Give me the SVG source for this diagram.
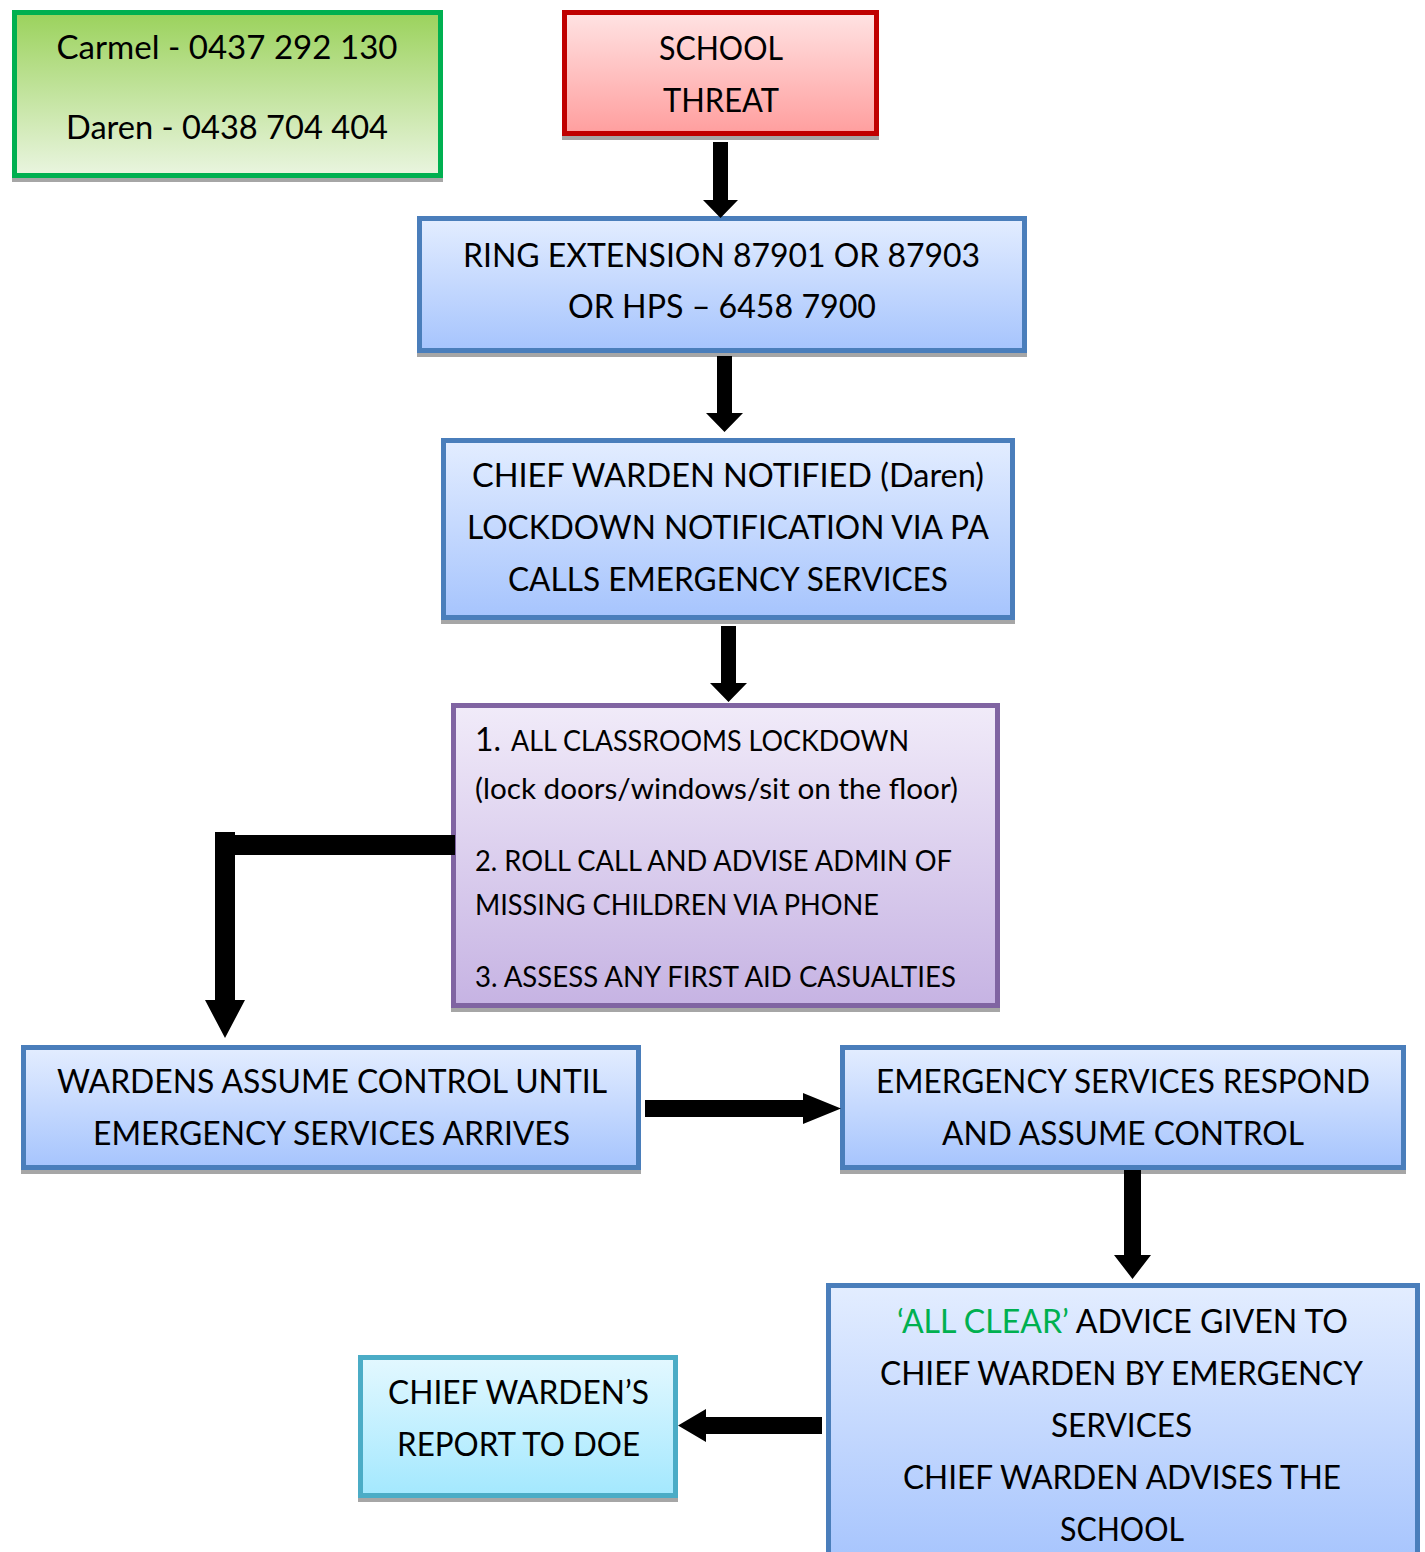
<svg xmlns="http://www.w3.org/2000/svg" width="1425" height="1552" viewBox="0 0 1425 1552">
<style>
.t{font-family:Lato,"Open Sans","Liberation Sans",sans-serif;font-size:33px;fill:#000;}
.p{font-size:28.5px;}
.sh{fill:#A6A6A6;}
.b{stroke-width:5;}
.ar{fill:#000;}
</style>
<defs>
<linearGradient id="gG" x1="0" y1="0" x2="0" y2="1"><stop offset="0" stop-color="#9BD25C"/><stop offset="1" stop-color="#EAF5E0"/></linearGradient>
<linearGradient id="gR" x1="0" y1="0" x2="0" y2="1"><stop offset="0" stop-color="#FFE3E3"/><stop offset="1" stop-color="#FF9E9E"/></linearGradient>
<linearGradient id="gB" x1="0" y1="0" x2="0" y2="1"><stop offset="0" stop-color="#E3EDFF"/><stop offset="1" stop-color="#A6C4FD"/></linearGradient>
<linearGradient id="gP" x1="0" y1="0" x2="0" y2="1"><stop offset="0" stop-color="#F1EBF9"/><stop offset="1" stop-color="#C6B3E3"/></linearGradient>
<linearGradient id="gC" x1="0" y1="0" x2="0" y2="1"><stop offset="0" stop-color="#E3F8FF"/><stop offset="1" stop-color="#A3E8FE"/></linearGradient>
</defs>
<rect width="1425" height="1552" fill="#fff"/>

<g id="contacts">
<rect class="sh" x="12" y="14" width="431" height="168"/>
<rect class="b" x="14.5" y="12.5" width="426" height="163" fill="url(#gG)" stroke="#00B050"/>
<text class="t" x="227" y="59" text-anchor="middle" textLength="341" lengthAdjust="spacingAndGlyphs">Carmel - 0437 292 130</text>
<text class="t" x="227" y="139" text-anchor="middle" textLength="322" lengthAdjust="spacingAndGlyphs">Daren - 0438 704 404</text>
</g>

<g id="school-threat">
<rect class="sh" x="562" y="14" width="317" height="126"/>
<rect class="b" x="564.5" y="12.5" width="312" height="121" fill="url(#gR)" stroke="#C00000"/>
<text class="t" x="721" y="60" text-anchor="middle" textLength="124" lengthAdjust="spacingAndGlyphs">SCHOOL</text>
<text class="t" x="721" y="112" text-anchor="middle" textLength="116" lengthAdjust="spacingAndGlyphs">THREAT</text>
</g>

<g id="ring-extension">
<rect class="sh" x="417" y="220" width="610" height="137"/>
<rect class="b" x="419.5" y="218.5" width="605" height="132" fill="url(#gB)" stroke="#4A7EBB"/>
<text class="t" x="721.5" y="267" text-anchor="middle" textLength="517" lengthAdjust="spacingAndGlyphs">RING EXTENSION 87901 OR 87903</text>
<text class="t" x="722" y="318" text-anchor="middle" textLength="308" lengthAdjust="spacingAndGlyphs">OR HPS – 6458 7900</text>
</g>

<g id="chief-warden-notified">
<rect class="sh" x="441" y="442" width="574" height="182"/>
<rect class="b" x="443.5" y="440.5" width="569" height="177" fill="url(#gB)" stroke="#4A7EBB"/>
<text class="t" x="728" y="487" text-anchor="middle" textLength="512" lengthAdjust="spacingAndGlyphs">CHIEF WARDEN NOTIFIED (Daren)</text>
<text class="t" x="728" y="539" text-anchor="middle" textLength="522" lengthAdjust="spacingAndGlyphs">LOCKDOWN NOTIFICATION VIA PA</text>
<text class="t" x="728" y="591" text-anchor="middle" textLength="440" lengthAdjust="spacingAndGlyphs">CALLS EMERGENCY SERVICES</text>
</g>

<g id="classroom-actions">
<rect class="sh" x="451" y="707" width="549" height="305"/>
<rect class="b" x="453.5" y="705.5" width="544" height="300" fill="url(#gP)" stroke="#8064A2"/>
<text class="t" x="475" y="751" font-size="32" textLength="26" lengthAdjust="spacingAndGlyphs">1.</text>
<text class="t p" x="511" y="751" textLength="398" lengthAdjust="spacingAndGlyphs">ALL CLASSROOMS LOCKDOWN</text>
<text class="t p" x="475" y="799" textLength="483" lengthAdjust="spacingAndGlyphs">(lock doors/windows/sit on the floor)</text>
<text class="t p" x="475" y="871" textLength="477" lengthAdjust="spacingAndGlyphs">2. ROLL CALL AND ADVISE ADMIN OF</text>
<text class="t p" x="475" y="915" textLength="404" lengthAdjust="spacingAndGlyphs">MISSING CHILDREN VIA PHONE</text>
<text class="t p" x="475" y="987" textLength="481" lengthAdjust="spacingAndGlyphs">3. ASSESS ANY FIRST AID CASUALTIES</text>
</g>

<g id="wardens-control">
<rect class="sh" x="21" y="1049" width="620" height="125"/>
<rect class="b" x="23.5" y="1047.5" width="615" height="120" fill="url(#gB)" stroke="#4A7EBB"/>
<text class="t" x="332" y="1093" text-anchor="middle" textLength="550" lengthAdjust="spacingAndGlyphs">WARDENS ASSUME CONTROL UNTIL</text>
<text class="t" x="331.5" y="1145" text-anchor="middle" textLength="477" lengthAdjust="spacingAndGlyphs">EMERGENCY SERVICES ARRIVES</text>
</g>

<g id="emergency-respond">
<rect class="sh" x="840" y="1049" width="566" height="125"/>
<rect class="b" x="842.5" y="1047.5" width="561" height="120" fill="url(#gB)" stroke="#4A7EBB"/>
<text class="t" x="1123" y="1093" text-anchor="middle" textLength="494" lengthAdjust="spacingAndGlyphs">EMERGENCY SERVICES RESPOND</text>
<text class="t" x="1123" y="1145" text-anchor="middle" textLength="362" lengthAdjust="spacingAndGlyphs">AND ASSUME CONTROL</text>
</g>

<g id="all-clear">
<rect class="sh" x="826" y="1287" width="594" height="285"/>
<rect class="b" x="828.5" y="1285.5" width="589" height="280" fill="url(#gB)" stroke="#4A7EBB"/>
<text class="t" x="1122.5" y="1333" text-anchor="middle" textLength="451" lengthAdjust="spacingAndGlyphs"><tspan fill="#00B050">‘ALL CLEAR’</tspan> ADVICE GIVEN TO</text>
<text class="t" x="1121.5" y="1385" text-anchor="middle" textLength="483" lengthAdjust="spacingAndGlyphs">CHIEF WARDEN BY EMERGENCY</text>
<text class="t" x="1121.5" y="1437" text-anchor="middle" textLength="141" lengthAdjust="spacingAndGlyphs">SERVICES</text>
<text class="t" x="1122" y="1489" text-anchor="middle" textLength="438" lengthAdjust="spacingAndGlyphs">CHIEF WARDEN ADVISES THE</text>
<text class="t" x="1122" y="1541" text-anchor="middle" textLength="124" lengthAdjust="spacingAndGlyphs">SCHOOL</text>
</g>

<g id="report-doe">
<rect class="sh" x="358" y="1359" width="320" height="143"/>
<rect class="b" x="360.5" y="1357.5" width="315" height="138" fill="url(#gC)" stroke="#4BACC6"/>
<text class="t" x="518.5" y="1404" text-anchor="middle" textLength="261" lengthAdjust="spacingAndGlyphs">CHIEF WARDEN’S</text>
<text class="t" x="518.5" y="1456" text-anchor="middle" textLength="243" lengthAdjust="spacingAndGlyphs">REPORT TO DOE</text>
</g>

<g id="connectors">
<polygon class="ar" points="713,142 728,142 728,200 738,200 720.5,218 703,200 713,200"/>
<polygon class="ar" points="717,356 732,356 732,413 743,413 724.5,432 706,413 717,413"/>
<polygon class="ar" points="721,626 736,626 736,683 747,683 728.5,702 710,683 721,683"/>
<polygon class="ar" points="215,832 235,832 235,835 455,835 455,855 235,855 235,1000 245,1000 225,1038 205,1000 215,1000"/>
<polygon class="ar" points="645,1100 803,1100 803,1093 841,1108.5 803,1124 803,1117 645,1117"/>
<polygon class="ar" points="1124,1170 1141,1170 1141,1255 1151,1255 1132.5,1279 1114,1255 1124,1255"/>
<polygon class="ar" points="822,1417 822,1434 706,1434 706,1442 678,1425.5 706,1409 706,1417"/>
</g>
</svg>
